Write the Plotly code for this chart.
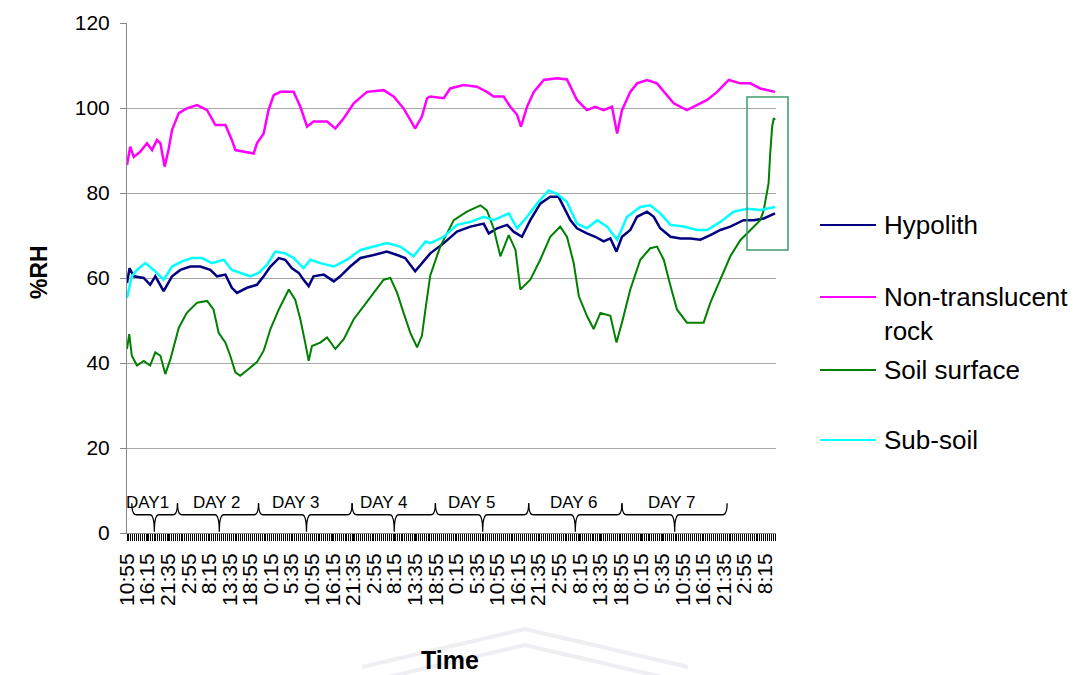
import plotly.graph_objects as go

# ---- logger records (5-minute intervals), %RH read per series ----
hypolith_idx = [0, 8, 21, 52, 72, 88, 114, 140, 166, 197, 228, 259, 280, 306, 326, 342, 373, 404, 425, 446,
                472, 492, 513, 534, 549, 565, 580, 612, 643, 663, 694, 726, 767, 808, 840, 865, 896, 917, 943, 985,
                1026, 1068, 1109, 1125, 1151, 1182, 1202, 1228, 1254, 1285, 1316, 1342, 1358, 1379, 1399, 1430,
                1456, 1482, 1503, 1522, 1539, 1565, 1586, 1617, 1638, 1658, 1690, 1721, 1752, 1783, 1814, 1845,
                1876, 1917, 1949, 1980, 2015]
hypolith_rh = [58.8, 62.3, 60.4, 60.0, 58.4, 60.4, 56.9, 60.4, 61.9, 62.7, 62.7, 61.9, 60.4, 60.8, 57.7, 56.5,
               57.7, 58.4, 60.4, 62.7, 64.7, 64.3, 62.3, 61.2, 59.6, 58.1, 60.4, 60.8, 59.2, 60.4, 62.7, 64.7,
               65.4, 66.2, 65.4, 64.7, 61.6, 63.5, 65.8, 68.2, 70.9, 72.1, 72.8, 70.5, 71.7, 72.5, 70.9, 69.7,
               73.6, 77.5, 79.1, 79.1, 76.7, 73.6, 71.7, 70.5, 69.7, 68.6, 69.3, 66.2, 69.7, 71.3, 74.4, 75.6,
               74.4, 71.7, 69.7, 69.3, 69.3, 69.0, 70.1, 71.3, 72.1, 73.6, 73.6, 74.0, 75.2]

rock_idx = [0, 10, 21, 41, 62, 78, 93, 104, 117, 129, 140, 161, 186, 218, 249, 275, 306, 326, 337, 363,
            394, 404, 425, 440, 456, 477, 518, 539, 560, 580, 622, 648, 674, 705, 746, 798, 829, 860, 896, 917,
            933, 943, 985, 1005, 1047, 1088, 1119, 1140, 1171, 1192, 1213, 1225, 1244, 1265, 1296, 1337, 1368,
            1399, 1430, 1456, 1482, 1508, 1524, 1539, 1565, 1586, 1617, 1648, 1669, 1700, 1741, 1772, 1804,
            1835, 1871, 1907, 1938, 1969, 1990, 2015]
rock_rh = [86.6, 90.9, 88.5, 89.7, 91.7, 90.1, 92.5, 91.7, 86.2, 90.1, 94.8, 98.8, 99.9, 100.7, 99.5, 96.0,
           96.0, 92.5, 90.1, 89.7, 89.3, 91.7, 94.0, 99.5, 103.0, 103.8, 103.8, 100.3, 95.6, 96.8, 96.8, 95.2,
           97.6, 101.1, 103.8, 104.2, 102.7, 99.9, 95.2, 98.0, 102.3, 102.7, 102.3, 104.6, 105.4, 105.0, 103.8,
           102.7, 102.7, 100.3, 98.4, 95.6, 100.3, 103.8, 106.6, 107.0, 106.7, 101.9, 99.5, 100.3, 99.5, 100.3,
           94.0, 99.5, 103.8, 105.8, 106.6, 105.8, 103.8, 101.1, 99.5, 100.7, 101.9, 103.8, 106.6, 105.8,
           105.8, 104.6, 104.2, 103.8]

soil_idx = [0, 7, 15, 31, 52, 72, 88, 104, 119, 135, 161, 186, 218, 249, 269, 285, 306, 321, 337, 352,
            378, 404, 425, 446, 472, 503, 523, 539, 554, 565, 575, 601, 622, 648, 674, 705, 736, 767, 798, 819,
            840, 860, 881, 902, 917, 928, 943, 974, 1016, 1057, 1099, 1119, 1140, 1161, 1187, 1208, 1223, 1254,
            1285, 1316, 1347, 1368, 1389, 1405, 1430, 1451, 1472, 1503, 1522, 1539, 1565, 1596, 1627, 1648,
            1669, 1690, 1710, 1741, 1772, 1793, 1814, 1845, 1876, 1907, 1938, 1969, 1980, 1995, 2000, 2006,
            2011, 2015]
soil_rh = [43.3, 46.8, 41.7, 39.4, 40.5, 39.4, 42.5, 41.7, 37.4, 40.9, 48.3, 51.8, 54.2, 54.6, 52.6, 47.1,
           44.8, 41.7, 37.8, 37.0, 38.6, 40.2, 42.9, 48.0, 52.6, 57.3, 54.9, 50.3, 44.8, 40.5, 44.0, 44.8,
           46.0, 43.3, 45.6, 50.3, 53.4, 56.5, 59.6, 60.0, 56.5, 51.8, 47.1, 43.7, 46.4, 52.6, 60.6, 67.4,
           73.6, 75.6, 77.1, 75.9, 71.7, 65.1, 70.1, 66.6, 57.3, 59.6, 64.3, 69.7, 72.1, 69.7, 63.5, 55.7,
           51.1, 48.0, 51.8, 51.1, 44.8, 49.5, 57.3, 64.3, 67.0, 67.4, 64.3, 58.1, 52.6, 49.5, 49.5, 49.5,
           54.2, 59.6, 65.1, 68.9, 71.3, 73.6, 76.0, 82.3, 89.3, 95.6, 97.6, 97.2]

subsoil_idx = [0, 15, 31, 57, 83, 114, 140, 171, 202, 233, 264, 301, 326, 352, 383, 409, 435, 461, 492, 518,
               549, 570, 601, 643, 684, 726, 767, 808, 850, 891, 928, 943, 985, 1026, 1068, 1109, 1140, 1187,
               1213, 1244, 1275, 1311, 1337, 1368, 1399, 1430, 1462, 1493, 1524, 1555, 1596, 1627, 1658, 1690,
               1731, 1772, 1804, 1845, 1886, 1928, 1969, 2015]
subsoil_rh = [55.3, 60.4, 61.9, 63.5, 61.9, 59.6, 62.7, 63.9, 64.7, 64.7, 63.5, 64.3, 61.9, 61.2, 60.4, 61.2,
              63.1, 66.2, 65.8, 64.7, 62.3, 64.3, 63.5, 62.7, 64.3, 66.6, 67.4, 68.2, 67.4, 65.1, 68.6, 68.2,
              69.7, 72.5, 73.2, 74.4, 73.6, 75.2, 71.7, 74.4, 77.5, 80.6, 79.8, 77.9, 72.8, 71.7, 73.6, 72.1,
              69.0, 74.4, 76.7, 77.1, 75.2, 72.5, 72.1, 71.3, 71.3, 73.2, 75.6, 76.3, 76.0, 76.7]

# time-of-day labels, one every 64 records (5 h 20 min)
tick_labels = ["10:55", "16:15", "21:35", "2:55", "8:15", "13:35", "18:55", "0:15", "5:35",
               "10:55", "16:15", "21:35", "2:55", "8:15", "13:35", "18:55", "0:15", "5:35",
               "10:55", "16:15", "21:35", "2:55", "8:15", "13:35", "18:55", "0:15", "5:35",
               "10:55", "16:15", "21:35", "2:55", "8:15"]
LABEL_EVERY = 64
N_RECORDS = 2018

# day brackets (record index: start, centre, end) and their labels
day_names = ["DAY1", "DAY 2", "DAY 3", "DAY 4", "DAY 5", "DAY 6", "DAY 7"]
day_start = [15, 157, 409, 700, 959, 1249, 1539]
day_tip = [85, 287, 558, 831, 1106, 1394, 1703]
day_end = [157, 409, 700, 959, 1249, 1539, 1866]
day_text_x = [63, 281, 524, 800, 1074, 1391, 1696]

series = [
    ("Hypolith", hypolith_idx, hypolith_rh, "#000080", 2.5),
    ("Non-translucent<br>rock", rock_idx, rock_rh, "#ff00ff", 2.5),
    ("Soil surface", soil_idx, soil_rh, "#008000", 2.0),
    ("Sub-soil", subsoil_idx, subsoil_rh, "#00ffff", 2.5),
]

FONT = "Liberation Sans, Arial, Helvetica, sans-serif"
W, H = 1073, 675
PL, PR, PT, PB = 127, 776, 23, 533


def px(x):
    return (x - PL) / (PR - PL)


def py(y):
    return (PB - y) / (PB - PT)


fig = go.Figure()
for name, xi, yv, color, width in series:
    fig.add_trace(go.Scatter(x=xi, y=yv, mode="lines", name=name, showlegend=False,
                             line=dict(color=color, width=width)))

shapes = []
annotations = []

# day brackets
top, mid, tip = 7.0, 4.3, 0.3
for a, c, b, name, tx in zip(day_start, day_tip, day_end, day_names, day_text_x):
    r = 14
    path = (f"M {a},{top} Q {a},{mid} {a + r},{mid} L {c - r},{mid} Q {c},{mid} {c},{tip} "
            f"Q {c},{mid} {c + r},{mid} L {b - r},{mid} Q {b},{mid} {b},{top}")
    shapes.append(dict(type="path", path=path, xref="x", yref="y",
                       line=dict(color="black", width=1.3)))
    annotations.append(dict(x=tx, y=7.2, xref="x", yref="y", text=name, showarrow=False,
                            font=dict(family=FONT, size=17, color="black"), yanchor="middle"))

# highlight box around the final rise
shapes.append(dict(type="rect", xref="paper", yref="paper",
                   x0=px(747), x1=px(788), y0=py(250), y1=py(97),
                   line=dict(color="#3c9a6c", width=1.5)))

# legend
legend_y = [225, 297, 370, 440]
for (name, _, _, color, _), ly in zip(series, legend_y):
    shapes.append(dict(type="line", xref="paper", yref="paper",
                       x0=px(820), x1=px(876), y0=py(ly), y1=py(ly),
                       line=dict(color=color, width=2)))
    two_line = "<br>" in name
    annotations.append(dict(x=px(882), y=py(ly - 17) if two_line else py(ly),
                            xref="paper", yref="paper", text=name, showarrow=False,
                            xanchor="left", yanchor="top" if two_line else "middle",
                            align="left",
                            font=dict(family=FONT, size=26, color="black")))

# axis titles
annotations.append(dict(x=px(24), y=py(272), xref="paper", yref="paper", text="<b>%RH</b>",
                        textangle=-90, showarrow=False,
                        font=dict(family=FONT, size=23, color="black")))
annotations.append(dict(x=px(450), y=py(644), xref="paper", yref="paper", text="<b>Time</b>",
                        showarrow=False, yanchor="top",
                        font=dict(family=FONT, size=25, color="black")))

# faint emblem behind the x title
for off in (0, 16):
    shapes.append(dict(type="path", xref="paper", yref="paper", layer="below",
                       path=(f"M {px(362)},{py(667 + off)} L {px(525)},{py(629 + off)} "
                             f"L {px(688)},{py(667 + off)}"),
                       line=dict(color="#eeeef3", width=4)))

fig.update_layout(
    width=W, height=H,
    margin=dict(l=PL, r=W - PR, t=PT, b=H - PB),
    plot_bgcolor="white", paper_bgcolor="white",
    font=dict(family=FONT, color="black"),
    shapes=shapes, annotations=annotations,
    showlegend=False,
)
fig.update_xaxes(
    range=[0, N_RECORDS],
    tickmode="array",
    tickvals=[k * LABEL_EVERY for k in range(len(tick_labels))],
    ticktext=tick_labels,
    tickangle=-90,
    tickfont=dict(family=FONT, size=21, color="black"),
    ticks="outside", ticklen=7, tickcolor="black", tickwidth=1,
    minor=dict(dtick=6, tick0=0, ticks="outside", ticklen=7, tickcolor="black", tickwidth=1, showgrid=False),
    showgrid=False, zeroline=False,
    showline=True, linecolor="#888888", linewidth=1,
    ticklabelstandoff=4,
)
fig.update_yaxes(
    range=[0, 120], tickmode="linear", tick0=0, dtick=20,
    tickfont=dict(family=FONT, size=21, color="black"),
    ticks="outside", ticklen=6, tickcolor="#888888",
    showgrid=True, gridcolor="#a8a8a8", gridwidth=1,
    zeroline=False,
    showline=True, linecolor="#888888", linewidth=1,
    ticklabelstandoff=6,
)

fig.write_html("out.html")
